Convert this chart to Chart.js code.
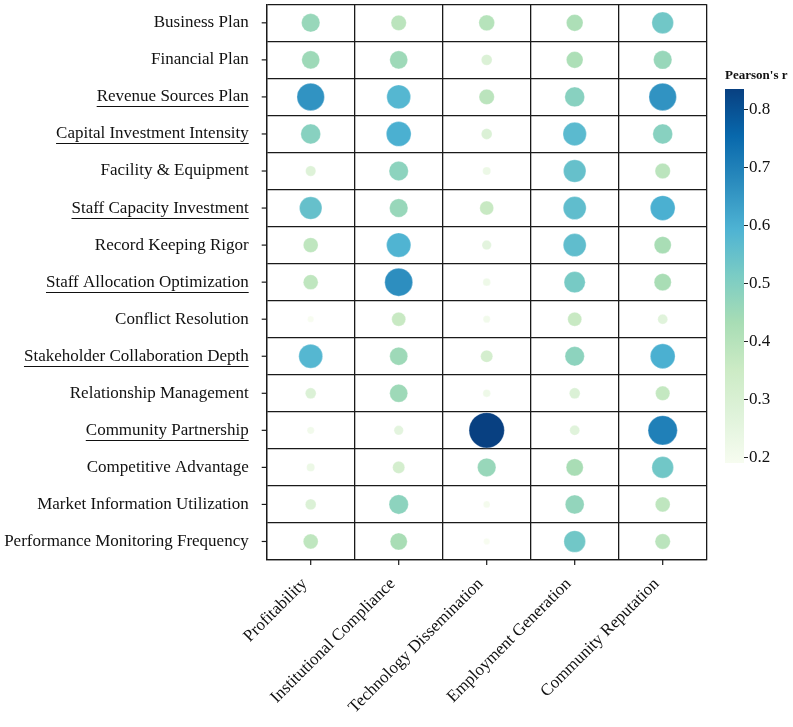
<!DOCTYPE html>
<html><head><meta charset="utf-8">
<script src="https://cdn.jsdelivr.net/npm/chart.js@4"></script>
<style>
html,body{margin:0;padding:0;background:#fff;}
#wrap{position:relative;width:793px;height:727px;}
#main{position:absolute;left:0;top:0;}
#cb{position:absolute;left:715px;top:64px;}
</style>
</head><body>
<div id="wrap"><canvas id="main" width="793" height="727"></canvas><canvas id="cb" width="78" height="399"></canvas></div>
<script>
const rowLabels = ['Business Plan','Financial Plan','Revenue Sources Plan','Capital Investment Intensity','Facility & Equipment','Staff Capacity Investment','Record Keeping Rigor','Staff Allocation Optimization','Conflict Resolution','Stakeholder Collaboration Depth','Relationship Management','Community Partnership','Competitive Advantage','Market Information Utilization','Performance Monitoring Frequency'];
const colLabels = ['Profitability','Institutional Compliance','Technology Dissemination','Employment Generation','Community Reputation'];
const underlined = [false,false,true,true,false,true,false,true,false,true,false,true,false,false,false];

const profitability           = [0.46,0.45,0.66,0.49,0.28,0.55,0.38,0.38,0.19,0.58,0.29,0.21,0.23,0.29,0.38];
const institutionalCompliance = [0.39,0.45,0.58,0.60,0.48,0.46,0.59,0.67,0.36,0.45,0.45,0.26,0.32,0.48,0.43];
const technologyDissemination = [0.40,0.29,0.39,0.29,0.23,0.36,0.26,0.22,0.21,0.32,0.22,0.835,0.46,0.20,0.19];
const employmentGeneration    = [0.42,0.42,0.49,0.57,0.55,0.56,0.56,0.52,0.36,0.48,0.29,0.27,0.43,0.47,0.53];
const communityReputation     = [0.53,0.46,0.66,0.49,0.39,0.60,0.43,0.43,0.27,0.60,0.37,0.70,0.53,0.38,0.39];
const colorbarTicks = [0.2,0.3,0.4,0.5,0.6,0.7,0.8];

const columns = [profitability, institutionalCompliance, technologyDissemination, employmentGeneration, communityReputation];
const allVals = columns.flat();
const vmin = Math.min(...allVals), vmax = Math.max(...allVals);

const GnBu = ['#f7fcf0','#e0f3db','#ccebc5','#a8ddb5','#7bccc4','#4eb3d3','#2b8cbe','#0868ac','#084081'];
function hex2rgb(h){return [parseInt(h.slice(1,3),16),parseInt(h.slice(3,5),16),parseInt(h.slice(5,7),16)];}
function cmap(v){
  let t = (v - vmin) / (vmax - vmin); t = Math.max(0, Math.min(1, t));
  const p = t * (GnBu.length - 1); const i = Math.min(Math.floor(p), GnBu.length - 2); const f = p - i;
  const a = hex2rgb(GnBu[i]), b = hex2rgb(GnBu[i+1]);
  return 'rgb(' + a.map((c,k)=>Math.round(c + (b[k]-c)*f)).join(',') + ')';
}
function radiusFor(v){ return Math.max(1, (45 * v - 2.2) / 2); }

const points = [];
columns.forEach((col, j) => col.forEach((v, i) => points.push({x: colLabels[j], y: rowLabels[i], r: radiusFor(v), v})));

const FONT = '"Liberation Serif", "Times New Roman", serif';
const LINE = '#1a1a1a';
const YPAD = 18;

const decor = {
  id: 'decor',
  afterDraw(chart) {
    const {ctx, scales: {x, y}} = chart;
    ctx.save();
    ctx.strokeStyle = LINE; ctx.lineWidth = 1.2;
    x.ticks.forEach((t, i) => { const px = x.getPixelForTick(i); ctx.beginPath(); ctx.moveTo(px, x.top); ctx.lineTo(px, x.top + 5); ctx.stroke(); });
    y.ticks.forEach((t, i) => { const py = y.getPixelForTick(i); ctx.beginPath(); ctx.moveTo(y.right - 5, py); ctx.lineTo(y.right, py); ctx.stroke(); });
    ctx.font = '17px ' + FONT;
    ctx.lineWidth = 1; ctx.strokeStyle = '#111';
    rowLabels.forEach((lab, i) => {
      if (!underlined[i]) return;
      const w = ctx.measureText(lab).width;
      const right = y.right - YPAD;
      const py = Math.round(y.getPixelForTick(i) + 9.5) + 0.5;
      ctx.beginPath(); ctx.moveTo(right - w, py); ctx.lineTo(right, py); ctx.stroke();
    });
    ctx.restore();
  }
};

new Chart(document.getElementById('main'), {
  type: 'bubble',
  data: { datasets: [{
    data: points,
    backgroundColor: points.map(p => cmap(p.v)),
    borderColor: 'rgba(255,255,255,0.5)',
    borderWidth: 0.6,
    hoverRadius: 0
  }]},
  options: {
    responsive: false, animation: false,
    layout: { autoPadding: false, padding: { top: 4.3, right: 86.3, left: 0, bottom: 0 } },
    plugins: { legend: { display: false }, tooltip: { enabled: false } },
    scales: {
      x: {
        type: 'category', labels: colLabels, offset: true,
        grid: { offset: true, color: LINE, lineWidth: 1.3, drawTicks: false },
        border: { display: true, color: LINE, width: 1.3 },
        ticks: { autoSkip: false, minRotation: 45, maxRotation: 45, padding: 14, labelOffset: -6, color: '#111', font: { family: FONT, size: 17 } },
        afterFit(s) { s.height = 167; s.paddingLeft = 0; s.paddingRight = 0; }
      },
      y: {
        type: 'category', labels: rowLabels, offset: true,
        grid: { offset: true, color: LINE, lineWidth: 1.3, drawTicks: false },
        border: { display: true, color: LINE, width: 1.3 },
        ticks: { autoSkip: false, padding: YPAD, color: '#111', font: { family: FONT, size: 17 } },
        afterFit(s) { s.width = 266.7; s.paddingTop = 0; s.paddingBottom = 0; }
      }
    }
  },
  plugins: [decor]
});

new Chart(document.getElementById('cb'), {
  type: 'bar',
  data: { labels: ['r'], datasets: [{
    data: [[vmin, vmax]],
    barPercentage: 1, categoryPercentage: 1, borderWidth: 0,
    backgroundColor(ctx) {
      const ca = ctx.chart.chartArea; if (!ca) return GnBu[4];
      const g = ctx.chart.ctx.createLinearGradient(0, ca.bottom, 0, ca.top);
      GnBu.forEach((c, i) => g.addColorStop(i / (GnBu.length - 1), c));
      return g;
    }
  }]},
  options: {
    responsive: false, animation: false,
    layout: { autoPadding: false, padding: { left: 10, top: 0, bottom: 0, right: 0 } },
    plugins: {
      legend: { display: false }, tooltip: { enabled: false },
      title: { display: true, text: "Pearson's r", align: 'start', color: '#111', font: { family: FONT, size: 13, weight: 'bold' }, padding: { top: 4, bottom: 5.4 } }
    },
    scales: {
      x: { display: false },
      y: {
        position: 'right', min: vmin, max: vmax,
        grid: { drawOnChartArea: false, drawTicks: true, tickLength: 4, tickColor: '#222', tickWidth: 1 },
        border: { display: false },
        ticks: { padding: 1, color: '#111', font: { family: FONT, size: 17 }, callback: v => v.toFixed(1) },
        afterBuildTicks(s) { s.ticks = colorbarTicks.map(v => ({ value: v })); },
        afterFit(s) { s.width = 49; s.paddingTop = 0; s.paddingBottom = 0; }
      }
    }
  }
});
</script>
</body></html>
